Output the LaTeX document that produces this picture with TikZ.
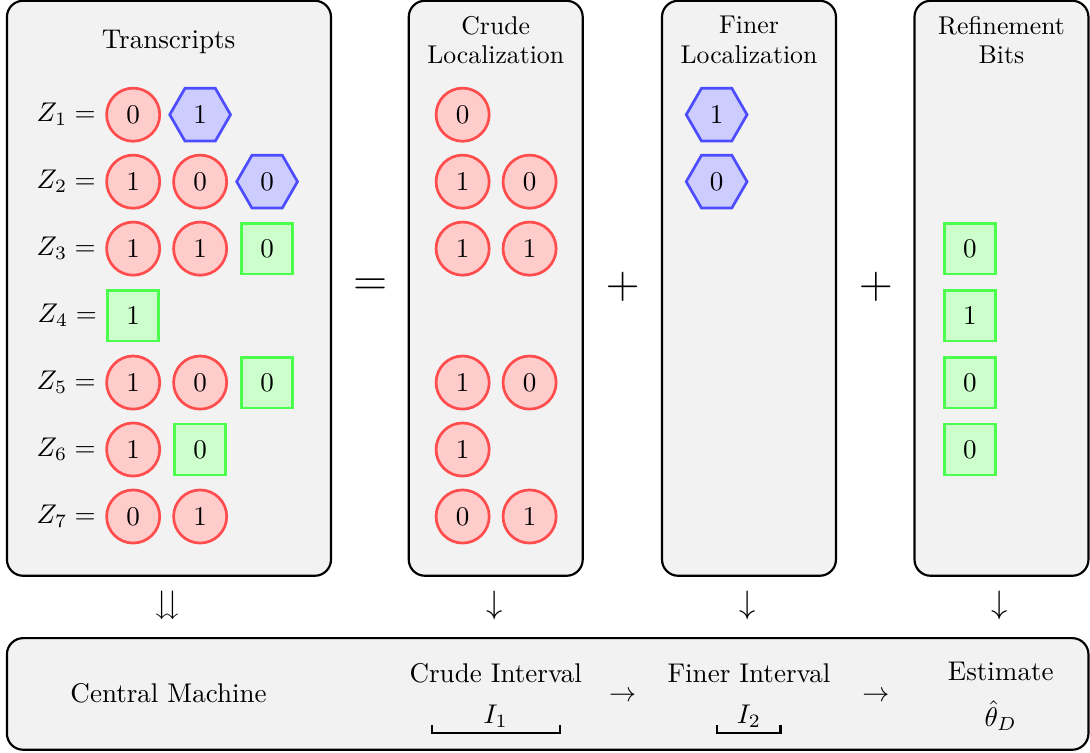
\documentclass[tikz,border=0pt]{standalone}
\usepackage{amsmath}
\usepackage{amssymb}
\usepackage{tikz}
\usetikzlibrary{shapes.geometric,positioning}
\definecolor{black}{RGB}{0,0,0}
\definecolor{panel_gray}{RGB}{242,242,242}
\definecolor{red_line}{RGB}{255,77,77}
\definecolor{red_fill}{RGB}{255,204,204}
\definecolor{blue_line}{RGB}{77,77,255}
\definecolor{blue_fill}{RGB}{204,204,255}
\definecolor{green_line}{RGB}{77,255,77}
\definecolor{green_fill}{RGB}{204,255,204}

\tikzset{
	panel/.style={draw=black,fill=panel_gray,thick,rounded corners=6pt,inner sep=0pt},
	coltitle/.style={align=center,font=\fontsize{9.5}{11}\selectfont},
	crude/.style={circle,draw=red_line,fill=red_fill,line width=1pt,minimum size=0.69cm,inner sep=0pt},
	finer/.style={regular polygon,regular polygon sides=6,draw=blue_line,fill=blue_fill,line width=1pt,minimum size=0.79cm,inner sep=0pt},
	refine/.style={rectangle,draw=green_line,fill=green_fill,line width=1pt,minimum size=0.66cm,inner sep=0pt},
}

\begin{document}
\begin{tikzpicture}
	\useasboundingbox (0,0) rectangle (14.16,-9.77);

	% panels
	\node[panel,minimum width=4.21cm,minimum height=7.47cm] (trans) at (2.195,-3.745) {};
	\node[panel,minimum width=2.26cm,minimum height=7.47cm] (crudebox) at (6.44,-3.745) {};
	\node[panel,minimum width=2.26cm,minimum height=7.47cm] (finerbox) at (9.73,-3.745) {};
	\node[panel,minimum width=2.26cm,minimum height=7.47cm] (refinebox) at (13.01,-3.745) {};
	\node[panel,minimum width=14.05cm,minimum height=1.45cm] (central) at (7.115,-9.015) {};

	\node (ttitle) at (2.19,-0.55) {Transcripts};
	\node[coltitle] (ctitle) at (6.44,-0.52) {Crude\\Localization};
	\node[coltitle] (ftitle) at (9.73,-0.52) {Finer\\Localization};
	\node[coltitle] (rtitle) at (13.01,-0.52) {Refinement\\Bits};

	% transcripts
	\node[crude] (t11) at (1.73,-1.49) {0};
	\node[finer] (t12) at (2.60,-1.49) {1};
	\node[crude] (t21) at (1.73,-2.36) {1};
	\node[crude] (t22) at (2.60,-2.36) {0};
	\node[finer] (t23) at (3.47,-2.36) {0};
	\node[crude] (t31) at (1.73,-3.23) {1};
	\node[crude] (t32) at (2.60,-3.23) {1};
	\node[refine] (t33) at (3.47,-3.23) {0};
	\node[refine] (t41) at (1.73,-4.10) {1};
	\node[crude] (t51) at (1.73,-4.97) {1};
	\node[crude] (t52) at (2.60,-4.97) {0};
	\node[refine] (t53) at (3.47,-4.97) {0};
	\node[crude] (t61) at (1.73,-5.84) {1};
	\node[refine] (t62) at (2.60,-5.84) {0};
	\node[crude] (t71) at (1.73,-6.71) {0};
	\node[crude] (t72) at (2.60,-6.71) {1};

	\foreach \i in {1,...,7}
		\node[left=0pt of t\i1] (z\i) {$Z_\i =$};

	% crude localization
	\node[crude] (c11) at (6.01,-1.49) {0};
	\node[crude] (c21) at (6.01,-2.36) {1};
	\node[crude] (c22) at (6.88,-2.36) {0};
	\node[crude] (c31) at (6.01,-3.23) {1};
	\node[crude] (c32) at (6.88,-3.23) {1};
	\node[crude] (c51) at (6.01,-4.97) {1};
	\node[crude] (c52) at (6.88,-4.97) {0};
	\node[crude] (c61) at (6.01,-5.84) {1};
	\node[crude] (c71) at (6.01,-6.71) {0};
	\node[crude] (c72) at (6.88,-6.71) {1};

	% finer localization
	\node[finer] (f1) at (9.31,-1.49) {1};
	\node[finer] (f2) at (9.31,-2.36) {0};

	% refinement bits
	\node[refine] (r3) at (12.60,-3.23) {0};
	\node[refine] (r4) at (12.60,-4.10) {1};
	\node[refine] (r5) at (12.60,-4.97) {0};
	\node[refine] (r6) at (12.60,-5.84) {0};

	\node (eq) at (4.81,-3.73) {\LARGE$=$};
	\node (plus1) at (8.09,-3.73) {\LARGE$+$};
	\node (plus2) at (11.38,-3.73) {\LARGE$+$};

	\node (down0) at (2.17,-7.87) {\large$\downdownarrows$};
	\foreach \n/\x in {1/6.43,2/9.71,3/12.99}
		\node (down\n) at (\x,-7.87) {\large$\downarrow$};

	% central machine
	\node (cm) at (2.19,-9.01) {Central Machine};
	\node (crudeint) at (6.44,-8.74) {Crude Interval};
	\node (i1) at (6.44,-9.31) {$I_1$};
	\node (to1) at (8.09,-9.05) {$\rightarrow$};
	\node (finerint) at (9.73,-8.74) {Finer Interval};
	\node (i2) at (9.73,-9.31) {$I_2$};
	\node (to2) at (11.38,-9.05) {$\rightarrow$};
	\node[align=center] (est) at (13.0,-9.05) {Estimate\\[5pt]$\hat{\theta}_D$};
	\draw[thick] (5.61,-9.42) -- (5.61,-9.52) -- (7.27,-9.52) -- (7.27,-9.42);
	\draw[thick] (9.31,-9.42) -- (9.31,-9.52) -- (10.14,-9.52) -- (10.14,-9.42);
\end{tikzpicture}
\end{document}
